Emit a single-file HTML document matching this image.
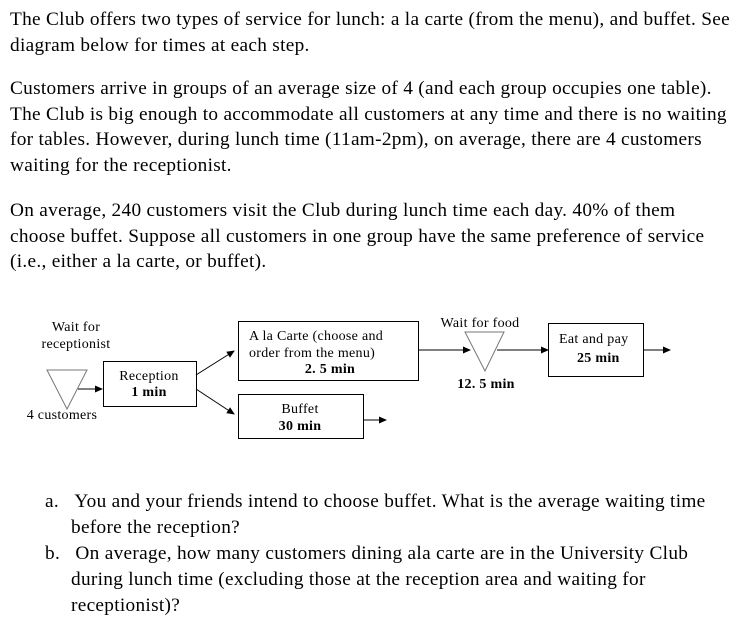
<!DOCTYPE html>
<html><head><meta charset="utf-8"><style>
body{margin:0;width:741px;height:625px;background:#fff;font-family:"Liberation Serif",serif;color:#000;position:relative;overflow:hidden}
.t{position:absolute;left:10px;font-size:19.3px;letter-spacing:0.3px;line-height:25.7px;white-space:nowrap}
svg{position:absolute;left:0;top:0}
svg text{font-family:"Liberation Serif",serif;font-size:14px;letter-spacing:0.3px}
</style></head><body>
<div class="t" style="top:7px">The Club offers two types of service for lunch: a la carte (from the menu), and buffet. See<br>diagram below for times at each step.</div>
<div class="t" style="top:76px">Customers arrive in groups of an average size of 4 (and each group occupies one table).<br>The Club is big enough to accommodate all customers at any time and there is no waiting<br>for tables. However, during lunch time (11am-2pm), on average, there are 4 customers<br>waiting for the receptionist.</div>
<div class="t" style="top:198px">On average, 240 customers visit the Club during lunch time each day. 40% of them<br>choose buffet. Suppose all customers in one group have the same preference of service<br>(i.e., either a la carte, or buffet).</div>
<div class="t" style="top:489px;left:45px">a.&nbsp;&nbsp;&nbsp;You and your friends intend to choose buffet. What is the average waiting time</div>
<div class="t" style="top:515px;left:71px">before the reception?</div>
<div class="t" style="top:541px;left:45px">b.&nbsp;&nbsp;&nbsp;On average, how many customers dining ala carte are in the University Club</div>
<div class="t" style="top:567px;left:71px;line-height:26px">during lunch time (excluding those at the reception area and waiting for<br>receptionist)?</div>
<svg width="741" height="625">
<defs><marker id="a" markerWidth="8" markerHeight="8" refX="7" refY="4" orient="auto" markerUnits="userSpaceOnUse"><path d="M0,0.5 L8,4 L0,7.5z" fill="#000"/></marker></defs>
<g fill="none" stroke="#000" stroke-width="1">
<rect x="103.5" y="361.5" width="93" height="45"/>
<rect x="238.5" y="321.5" width="180" height="59"/>
<rect x="238.5" y="394.5" width="125" height="44"/>
<rect x="548.5" y="323.5" width="95" height="53"/>
</g>
<g fill="none" stroke="#777" stroke-width="1">
<path d="M47,370 L87,370 L67,409z"/>
<path d="M465,332 L504,332 L485,371z"/>
</g>
<g stroke="#000" stroke-width="1" marker-end="url(#a)">
<line x1="78" y1="389" x2="102" y2="389"/>
<line x1="196" y1="375" x2="234" y2="351"/>
<line x1="196" y1="389" x2="234" y2="414"/>
<line x1="364" y1="420" x2="386" y2="420"/>
<line x1="418" y1="350" x2="470" y2="350"/>
<line x1="497" y1="350" x2="548" y2="350"/>
<line x1="643" y1="350" x2="670" y2="350"/>
</g>
<text x="76" y="331" text-anchor="middle">Wait for</text>
<text x="76" y="348" text-anchor="middle">receptionist</text>
<text x="62" y="419" text-anchor="middle">4 customers</text>
<text x="149" y="380" text-anchor="middle">Reception</text>
<text x="149" y="396" text-anchor="middle" font-weight="bold">1 min</text>
<text x="249" y="340">A la Carte (choose and</text>
<text x="249" y="357">order from the menu)</text>
<text x="330" y="373" text-anchor="middle" font-weight="bold">2. 5 min</text>
<text x="300" y="413" text-anchor="middle">Buffet</text>
<text x="300" y="430" text-anchor="middle" font-weight="bold">30 min</text>
<text x="480" y="327" text-anchor="middle">Wait for food</text>
<text x="486" y="388" text-anchor="middle" font-weight="bold">12. 5 min</text>
<text x="559" y="343">Eat and pay</text>
<text x="577" y="362" font-weight="bold" font-size="15.5">25 min</text>
</svg>
</body></html>
